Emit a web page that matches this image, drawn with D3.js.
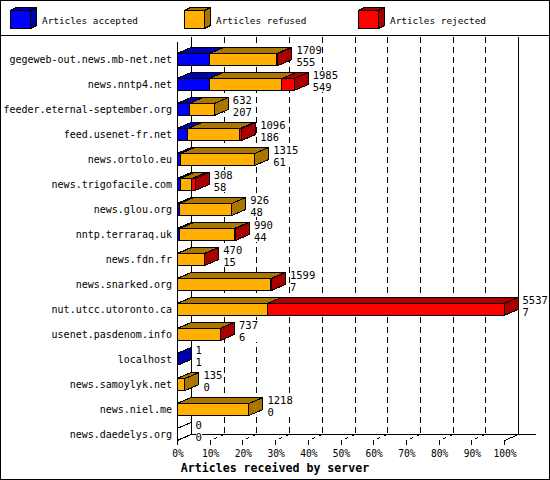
<!DOCTYPE html>
<html>
<head>
<meta charset="utf-8">
<script src="https://cdn.jsdelivr.net/npm/d3@7"></script>
<style>
  body { margin: 0; background: #fff; }
  text { font-family: "DejaVu Sans Mono", monospace; fill: #000; }
</style>
</head>
<body>
<div id="chart"></div>
<script>
const servers = [
  "gegeweb-out.news.mb-net.net", "news.nntp4.net", "feeder.eternal-september.org",
  "feed.usenet-fr.net", "news.ortolo.eu", "news.trigofacile.com", "news.glou.org",
  "nntp.terraraq.uk", "news.fdn.fr", "news.snarked.org", "nut.utcc.utoronto.ca",
  "usenet.pasdenom.info", "localhost", "news.samoylyk.net", "news.niel.me", "news.daedelys.org"
];
const totals   = [1709, 1985, 632, 1096, 1315, 308, 926, 990, 470, 1599, 5537, 737, 1, 135, 1218, 0];
const accepted = [555, 549, 207, 186, 61, 58, 48, 44, 15, 7, 7, 6, 1, 0, 0, 0];
const rejected = [20, 210, 0, 30, 0, 55, 0, 20, 10, 10, 4010, 8, 0, 0, 0, 0];
const seriesNames = ["Articles accepted", "Articles refused", "Articles rejected"];
const tickValues = [0, 10, 20, 30, 40, 50, 60, 70, 80, 90, 100];

const W = 550, H = 480;
const colors = ["#0000ff", "#ffb000", "#ff0000"];
const darks  = ["#0000aa", "#aa7500", "#aa0000"];
const dx = 14, dy = 6;

const svg = d3.select("#chart").append("svg")
  .attr("width", W).attr("height", H)
  .attr("shape-rendering", "crispEdges");

svg.append("rect")
  .attr("x", 0.5).attr("y", 0.5).attr("width", W - 1).attr("height", H - 1)
  .attr("fill", "#fff").attr("stroke", "#000");

svg.append("line")
  .attr("x1", 0).attr("x2", W).attr("y1", 35.5).attr("y2", 35.5)
  .attr("stroke", "#000");

// legend cubes
const legendX = [10, 184, 358];
const legend = svg.selectAll(".legend")
  .data(seriesNames)
  .enter().append("g")
  .attr("class", "legend")
  .attr("transform", (d, i) => `translate(${legendX[i]}, 0)`);

legend.append("polygon")
  .attr("points", "20.5,10.5 26.5,7.5 26.5,25.5 20.5,28.5")
  .attr("fill", (d, i) => darks[i]).attr("stroke", "#000");
legend.append("polygon")
  .attr("points", "0.5,10.5 6.5,7.5 26.5,7.5 20.5,10.5")
  .attr("fill", (d, i) => darks[i]).attr("stroke", "#000");
legend.append("rect")
  .attr("x", 0.5).attr("y", 10.5).attr("width", 20).attr("height", 18)
  .attr("fill", (d, i) => colors[i]).attr("stroke", "#000");
legend.append("text")
  .attr("x", 32).attr("y", 24)
  .style("font-size", "9.4px")
  .text(d => d);

// scales
const maxTotal = d3.max(totals);
const x = d3.scaleLinear().domain([0, 100]).range([177, 504]);
const y = d3.scaleBand().domain(servers).range([41, 441]);

const wallTop = 37, floorBack = 434, floorFront = 440;

// back wall and floor
const grid = svg.append("g").attr("stroke", "#000").attr("fill", "none");
grid.append("line")
  .attr("x1", x(0) + dx + 0.5).attr("x2", x(0) + dx + 0.5)
  .attr("y1", wallTop).attr("y2", floorBack);
grid.append("line")
  .attr("x1", x(100) + dx + 0.5).attr("x2", x(100) + dx + 0.5)
  .attr("y1", wallTop).attr("y2", floorBack);
grid.append("line")
  .attr("x1", x(0) + dx).attr("x2", 536)
  .attr("y1", floorBack + 0.5).attr("y2", floorBack + 0.5);
grid.selectAll(".vgrid")
  .data(tickValues.slice(1, -1))
  .enter().append("line")
  .attr("x1", d => Math.round(x(d)) + dx + 0.5).attr("x2", d => Math.round(x(d)) + dx + 0.5)
  .attr("y1", wallTop).attr("y2", floorBack)
  .attr("stroke-dasharray", "6,4");
grid.selectAll(".fgrid")
  .data(tickValues.slice(1))
  .enter().append("line")
  .attr("x1", d => Math.round(x(d)) + dx + 0.5).attr("y1", floorBack + 0.5)
  .attr("x2", d => Math.round(x(d)) + 0.5).attr("y2", floorFront + 0.5)
  .attr("stroke-dasharray", d => d === 100 ? null : "4,4");
grid.append("line")
  .attr("x1", x(0) + dx + 0.5).attr("y1", floorBack + 0.5)
  .attr("x2", x(0) + 0.5).attr("y2", floorFront + 0.5);
grid.selectAll(".tick")
  .data(tickValues)
  .enter().append("line")
  .attr("x1", d => Math.round(x(d)) + 0.5).attr("x2", d => Math.round(x(d)) + 0.5)
  .attr("y1", floorFront).attr("y2", floorFront + 5);
grid.append("line")
  .attr("x1", x(0) + 0.5).attr("x2", x(0) + 0.5)
  .attr("y1", wallTop + dy - 1).attr("y2", floorFront + 5);

svg.selectAll(".xlabel")
  .data(tickValues)
  .enter().append("text")
  .attr("x", d => x(d) + 1)
  .attr("y", 456.5)
  .attr("text-anchor", "middle")
  .style("font-size", "9.6px")
  .text(d => d + "%");

svg.append("text")
  .attr("x", W / 2).attr("y", 471.5)
  .attr("text-anchor", "middle")
  .style("font-size", "11.6px")
  .style("font-weight", "bold")
  .text("Articles received by server");

// category labels
svg.selectAll(".ylabel")
  .data(servers)
  .enter().append("text")
  .attr("x", 172)
  .attr("y", d => y(d) + 21.5)
  .attr("text-anchor", "end")
  .style("font-size", "10px")
  .text(d => d);

// bars
const rows = servers.map((name, i) => {
  const vals = [accepted[i], totals[i] - accepted[i] - rejected[i], rejected[i]];
  let cum = 0;
  const segs = vals.map((v, k) => {
    const s = { k, v, x0: x(cum / maxTotal * 100) };
    cum += v;
    s.x1 = x(cum / maxTotal * 100);
    return s;
  });
  return { name, i, segs };
});

const bars = svg.selectAll(".bar")
  .data(rows)
  .enter().append("g")
  .attr("class", "bar")
  .attr("stroke", "#000");

bars.each(function (r) {
  const g = d3.select(this);
  const yt = y(r.name) + 12.5, yb = y(r.name) + 24.5;
  const segs = r.segs.filter(s => s.v > 0);
  segs.forEach(s => {
    g.append("polygon")
      .attr("points", [[s.x0, yt], [s.x0 + dx, yt - dy], [s.x1 + dx, yt - dy], [s.x1, yt]].join(" "))
      .attr("fill", darks[s.k]);
    g.append("rect")
      .attr("x", s.x0).attr("y", yt)
      .attr("width", Math.max(s.x1 - s.x0, 0.01)).attr("height", yb - yt)
      .attr("fill", colors[s.k]);
  });
  const last = segs[segs.length - 1];
  const xe = last ? last.x1 : x(0);
  g.append("polygon")
    .attr("points", [[xe, yt], [xe + dx, yt - dy], [xe + dx, yb - dy], [xe, yb]].join(" "))
    .attr("fill", last ? darks[last.k] : "none");
  if (!last) {
    g.append("line").attr("x1", xe).attr("x2", xe).attr("y1", yt).attr("y2", yb);
  }

  // value labels on a white box, as the grid is hidden behind them
  const lx = xe + dx + 4.5;
  const lab = g.append("g").attr("stroke", "none")
    .style("font-family", "'Liberation Sans', Arial, sans-serif")
    .style("font-size", "10.5px");
  const bg = lab.append("rect").attr("fill", "#fff");
  lab.append("text").attr("x", lx).attr("y", yt + 0.5).text(totals[r.i]);
  lab.append("text").attr("x", lx).attr("y", yt + 12.6).text(accepted[r.i]);
  const bb = lab.node().getBBox();
  bg.attr("x", bb.x).attr("y", bb.y + 1).attr("width", bb.width).attr("height", bb.height - 2);
});
</script>
</body>
</html>
